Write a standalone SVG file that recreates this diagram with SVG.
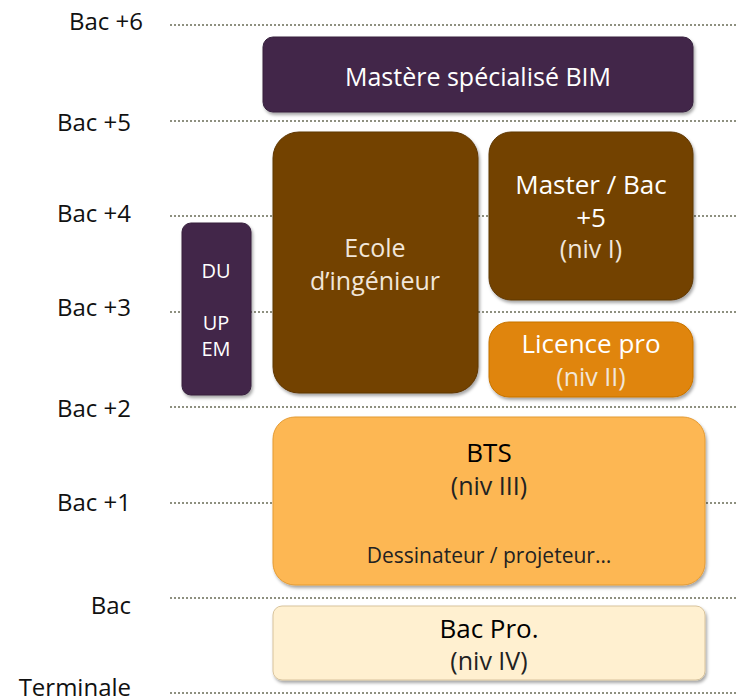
<svg xmlns="http://www.w3.org/2000/svg" width="736" height="698" viewBox="0 0 736 698">
<defs>
<filter id="sh" x="-10%" y="-10%" width="125%" height="130%">
<feDropShadow dx="1.5" dy="2.5" stdDeviation="1.8" flood-color="#000" flood-opacity="0.35"/>
</filter>
</defs>
<style>
text{font-family:"Open Sans","Noto Sans","Liberation Sans",sans-serif;}
.lvl{font-size:24px;fill:#111;text-anchor:end;}
.grid line{stroke:#8e9080;stroke-width:2;stroke-dasharray:2 2;}
.box{filter:url(#sh);}
.purple{fill:#42284a;stroke:#36203d;stroke-width:1;}
.brown{fill:#734305;stroke:#5e3604;stroke-width:1;}
.orange{fill:#e08508;stroke:#c77304;stroke-width:1;}
.light{fill:#fdb752;stroke:#e49b34;stroke-width:1;}
.cream{fill:#fff0d0;stroke:#d8c39c;stroke-width:1;}
.t{text-anchor:middle;font-size:25px;}
.b{font-size:26px;}
.w{fill:#ffffff;}
.wl{fill:#f1e6da;}
.k{fill:#000;}
.kl{fill:#222;}
</style>
<g id="levels">
<text class="lvl" x="143" y="30">Bac +6</text>
<text class="lvl" x="131" y="131">Bac +5</text>
<text class="lvl" x="131" y="222">Bac +4</text>
<text class="lvl" x="131" y="316">Bac +3</text>
<text class="lvl" x="131" y="417">Bac +2</text>
<text class="lvl" x="131" y="511">Bac +1</text>
<text class="lvl" x="131" y="614">Bac</text>
<text class="lvl" x="131" y="696">Terminale</text>
</g>
<g class="grid">
<line x1="170" y1="25" x2="736" y2="25"/>
<line x1="170" y1="121" x2="736" y2="121"/>
<line x1="170" y1="216" x2="736" y2="216"/>
<line x1="170" y1="312" x2="736" y2="312"/>
<line x1="170" y1="407" x2="736" y2="407"/>
<line x1="170" y1="503" x2="736" y2="503"/>
<line x1="170" y1="598" x2="736" y2="598"/>
<line x1="170" y1="693" x2="736" y2="693"/>
</g>
<g id="master-bim">
<rect class="box purple" x="263" y="37" width="430" height="75" rx="10"/>
<text class="t w" x="478" y="86">Mastère spécialisé BIM</text>
</g>
<g id="ecole">
<rect class="box brown" x="273" y="132" width="205" height="261" rx="26"/>
<text class="t wl" x="375" y="257">Ecole</text>
<text class="t wl" x="375" y="290">d’ingénieur</text>
</g>
<g id="master">
<rect class="box brown" x="489" y="132" width="204" height="168" rx="22"/>
<text class="t b w" x="591" y="194">Master / Bac</text>
<text class="t b w" x="591" y="227">+5</text>
<text class="t wl" x="591" y="258">(niv I)</text>
</g>
<g id="licence">
<rect class="box orange" x="489" y="322" width="204" height="75" rx="20"/>
<text class="t b w" x="591" y="353">Licence pro</text>
<text class="t wl" x="591" y="386">(niv II)</text>
</g>
<g id="du">
<rect class="box purple" x="182" y="223" width="69" height="172" rx="9"/>
<text class="t w" x="216" y="278" style="font-size:20px">DU</text>
<text class="t w" x="216" y="330" style="font-size:20px">UP</text>
<text class="t w" x="216" y="356" style="font-size:20px">EM</text>
</g>
<g id="bts">
<rect class="box light" x="273" y="417" width="432" height="168" rx="22"/>
<text class="t b k" x="489" y="462">BTS</text>
<text class="t kl" x="489" y="495">(niv III)</text>
<text class="t kl" x="489" y="563" style="font-size:21px">Dessinateur / projeteur…</text>
</g>
<g id="bacpro">
<rect class="box cream" x="273" y="606" width="432" height="74" rx="9"/>
<text class="t b k" x="489" y="638">Bac Pro.</text>
<text class="t kl" x="489" y="670">(niv IV)</text>
</g>
</svg>
